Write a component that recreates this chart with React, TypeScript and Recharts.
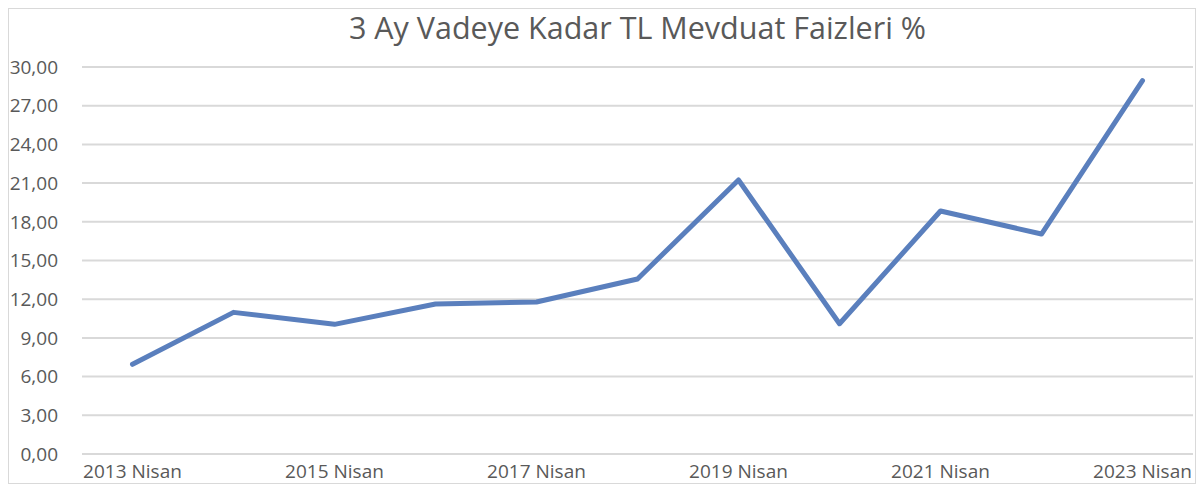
import React from 'react';
import { LineChart, Line, XAxis, YAxis, CartesianGrid } from 'recharts';

const years = ['2013', '2014', '2015', '2016', '2017', '2018', '2019', '2020', '2021', '2022', '2023'];
const rates = [6.95, 10.98, 10.05, 11.63, 11.78, 13.57, 21.24, 10.1, 18.84, 17.05, 28.94];
const yTicks = [0, 3, 6, 9, 12, 15, 18, 21, 24, 27, 30];

const data = years.map((y, i) => ({ label: `${y} Nisan`, value: rates[i] }));

const font = '"Open Sans", sans-serif';
const textColor = '#595959';

const fmt = (v: number) => v.toFixed(2).replace('.', ',');

const App: React.FC = () => {
    return (
        <div
            style={{
                position: 'relative',
                width: 1188,
                height: 476,
                border: '1px solid #d9d9d9',
                boxSizing: 'border-box',
                background: '#fff',
                fontFamily: font,
            }}
        >
            <div
                style={{
                    position: 'absolute',
                    left: 73,
                    width: 1111,
                    top: 0,
                    textAlign: 'center',
                    fontSize: 30.5,
                    color: textColor,
                    lineHeight: '36px',
                }}
            >
                3 Ay Vadeye Kadar TL Mevduat Faizleri %
            </div>
            <LineChart
                width={1186}
                height={474}
                data={data}
                margin={{ top: 58, right: 2, left: 0, bottom: 0 }}
            >
                <CartesianGrid vertical={false} stroke="#d9d9d9" strokeWidth={2} />
                <XAxis
                    dataKey="label"
                    interval={1}
                    axisLine={false}
                    tickLine={false}
                    tickMargin={5}
                    height={29}
                    padding={{ left: 50.5, right: 50.5 }}
                    tick={{ fill: textColor, fontSize: 19, fontFamily: font }}
                />
                <YAxis
                    domain={[0, 30]}
                    ticks={yTicks}
                    tickFormatter={fmt}
                    axisLine={false}
                    tickLine={false}
                    tickMargin={18}
                    width={73}
                    tick={{ fill: textColor, fontSize: 19, fontFamily: font }}
                />
                <Line
                    type="linear"
                    dataKey="value"
                    stroke="#5a7fbd"
                    strokeWidth={5}
                    strokeLinecap="round"
                    strokeLinejoin="round"
                    dot={false}
                    isAnimationActive={false}
                />
            </LineChart>
        </div>
    );
};

export default App;
